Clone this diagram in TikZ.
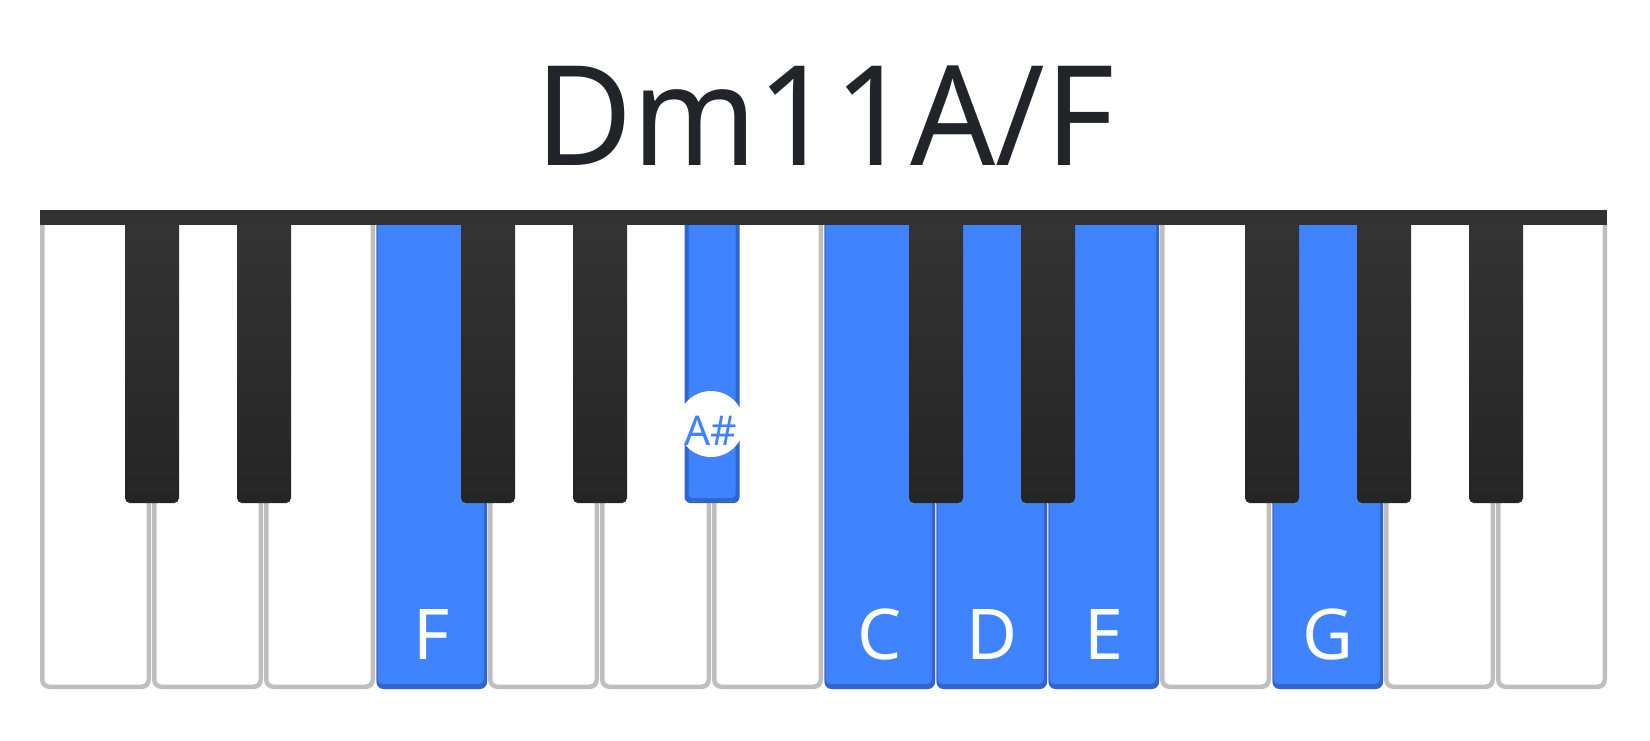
\documentclass[tikz,border=0pt]{standalone}
\usepackage{fontspec}
\setmainfont{Noto Sans}
\definecolor{keyblue}{RGB}{64,131,255}
\definecolor{keyblueedge}{RGB}{50,100,205}
\definecolor{keygrey}{RGB}{190,190,190}
\definecolor{barcol}{RGB}{50,50,50}
\definecolor{blacktop}{RGB}{52,52,52}
\definecolor{blackbot}{RGB}{37,37,37}
\definecolor{titlecol}{RGB}{33,37,41}
\tikzset{
  whitekey/.style={draw=keygrey, line width=4.5pt, rounded corners=7pt, fill=white},
  blackkey/.style={top color=blacktop, bottom color=blackbot, rounded corners=5pt},
  notelabel/.style={anchor=base, text=white, font=\fontsize{70}{80}\selectfont, inner sep=0pt},
}
\begin{document}
\begin{tikzpicture}[x=1pt,y=-1pt]
\useasboundingbox (0,0) rectangle (1650,740);
\fill[white] (0,0) rectangle (1650,740);
% white keys
\foreach \i in {0,...,13} {
  \path[whitekey] ({42.25+112*\i},213) rectangle ({148.75+112*\i},686.75);
}
% highlighted white keys
\foreach \i in {3,7,8,9,11} {
  \fill[keyblueedge, rounded corners=7pt] ({40.5+112*\i},212) rectangle ({151+112*\i},689);
  \fill[keyblue, rounded corners=5pt] ({41.5+112*\i},212) rectangle ({148+112*\i},684);
}
% black keys
\foreach \k in {1,2,4,5,8,9,11,12,13} {
  \shade[blackkey] ({40+112*\k-27},212) rectangle ({40+112*\k+27},503);
}
% highlighted black key (A#)
\fill[keyblueedge, rounded corners=6pt] (684.5,212) rectangle (739.5,503);
\fill[keyblue, rounded corners=4pt] (688.5,212) rectangle (735.5,498);
% top bar
\fill[barcol] (40,210) rectangle (1607,225);
% title
\node[anchor=base, text=titlecol, font=\fontsize{139}{150}\selectfont, inner sep=0pt] (title) at (825,165) {\scalebox{0.96}[1]{Dm11A/F}};
% A# marker
\node[circle, fill=white, minimum size=66pt, inner sep=0pt] (ashcircle) at (711,424) {};
\node[anchor=base, text=keyblue, font=\fontsize{41}{48}\selectfont, inner sep=0pt] (ashlabel) at (711,445) {A\#};
% note labels
\node[notelabel] (lblF) at (432,659) {F};
\node[notelabel] (lblC) at (880,659) {C};
\node[notelabel] (lblD) at (992,659) {D};
\node[notelabel] (lblE) at (1104,659) {E};
\node[notelabel] (lblG) at (1328,659) {G};
\end{tikzpicture}
\end{document}
